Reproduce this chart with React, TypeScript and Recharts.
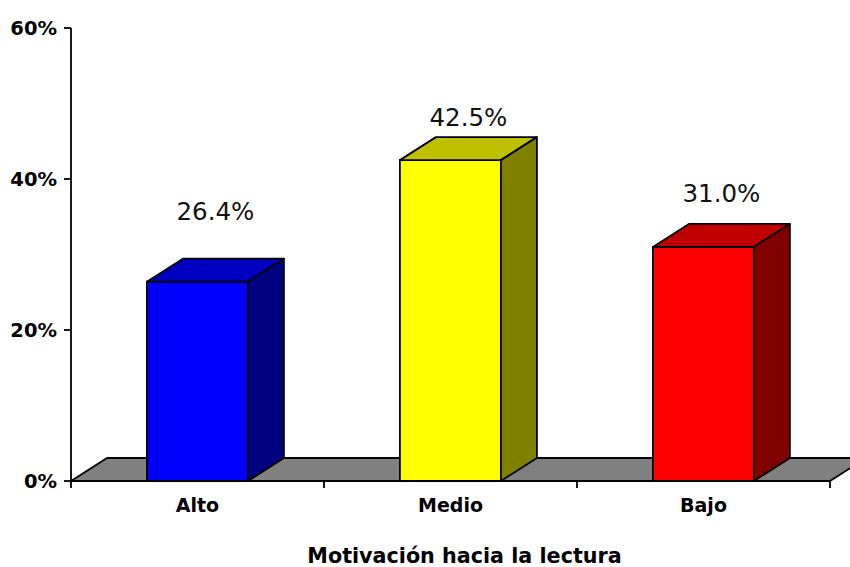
import React from "react";
import { BarChart, Bar, XAxis, YAxis, LabelList, usePlotArea } from "recharts";

// values
const categories = ["Alto", "Medio", "Bajo"];
const percents = [26.4, 42.5, 31.0];
const yTicks = [0, 20, 40, 60];

const data = categories.map((name, i) => ({ name, value: percents[i] }));

// colours for each face of the 3D boxes
const frontColors = ["#0000FF", "#FFFF00", "#FF0000"];
const topColors = ["#0000C0", "#C0C000", "#C00000"];
const sideColors = ["#000080", "#808000", "#800000"];
// Excel placed the value labels unevenly above each box
const labelRaise = [70, 43, 53];

const DX = 36;
const DY = -23;
const FONT = "'DejaVu Sans', Verdana, sans-serif";
const EDGE = 1.8;

function Floor() {
  const area = usePlotArea();
  if (!area) return null;
  const { x, y, width, height } = area;
  const base = y + height;
  const band = width / categories.length;
  return (
    <g>
      <polygon
        points={`${x},${base} ${x + width},${base} ${x + width + DX},${base + DY} ${x + DX},${base + DY}`}
        fill="#808080"
        stroke="#000"
        strokeWidth={EDGE}
        strokeLinejoin="round"
      />
      {Array.from({ length: categories.length + 1 }, (_, k) => (
        <line
          key={k}
          x1={x + k * band}
          x2={x + k * band}
          y1={base}
          y2={base + 7}
          stroke="#000"
          strokeWidth={EDGE}
        />
      ))}
    </g>
  );
}

function Box3D(props: any) {
  const { x, y, width: w, height: h, index } = props;
  const i = index ?? 0;
  const top = `${x},${y} ${x + DX},${y + DY} ${x + w + DX},${y + DY} ${x + w},${y}`;
  const side = `${x + w},${y} ${x + w + DX},${y + DY} ${x + w + DX},${y + h + DY} ${x + w},${y + h}`;
  return (
    <g>
      {i === 0 && <Floor />}
      <rect x={x} y={y} width={w} height={h} fill={frontColors[i]} stroke="#000" strokeWidth={EDGE} />
      <polygon points={top} fill={topColors[i]} stroke="#000" strokeWidth={EDGE} strokeLinejoin="round" />
      <polygon points={side} fill={sideColors[i]} stroke="#000" strokeWidth={EDGE} strokeLinejoin="round" />
    </g>
  );
}

function ValueLabel(props: any) {
  const { x, y, width, value, index } = props;
  const i = index ?? percents.indexOf(value);
  return (
    <text
      x={x + width / 2 + DX / 2}
      y={y - (labelRaise[i] ?? 50)}
      textAnchor="middle"
      dominantBaseline="central"
      fontFamily={FONT}
      fontSize={24.5}
      fill="#111"
    >
      {`${Number(value).toFixed(1)}%`}
    </text>
  );
}

export default function App() {
  return (
    <div style={{ position: "absolute", left: 0, top: 0, background: "#fff" }}>
      <BarChart
        width={850}
        height={567}
        data={data}
        margin={{ top: 28, right: 20, left: 0, bottom: 0 }}
        barCategoryGap="30%"
      >
        <YAxis
          width={71}
          domain={[0, 60]}
          ticks={yTicks}
          tickFormatter={(v) => `${v}%`}
          axisLine={{ stroke: "#000", strokeWidth: EDGE }}
          tickLine={{ stroke: "#000", strokeWidth: EDGE }}
          tickSize={7}
          tickMargin={7}
          tick={{ fill: "#000", fontSize: 19.5, fontWeight: "bold", fontFamily: FONT }}
        />
        <XAxis
          dataKey="name"
          height={86}
          axisLine={{ stroke: "#000", strokeWidth: EDGE }}
          tickLine={false}
          tickSize={0}
          tickMargin={18}
          tick={{ fill: "#000", fontSize: 19, fontWeight: "bold", fontFamily: FONT }}
          label={{
            value: "Motivación hacia la lectura",
            position: "insideBottom",
            offset: 4,
            dx: 14,
            fill: "#000",
            fontSize: 20.7,
            fontWeight: "bold",
            fontFamily: FONT,
          }}
        />
        <Bar dataKey="value" shape={(p: any) => <Box3D {...p} />} isAnimationActive={false}>
          <LabelList dataKey="value" content={(p: any) => <ValueLabel {...p} />} />
        </Bar>
      </BarChart>
    </div>
  );
}
